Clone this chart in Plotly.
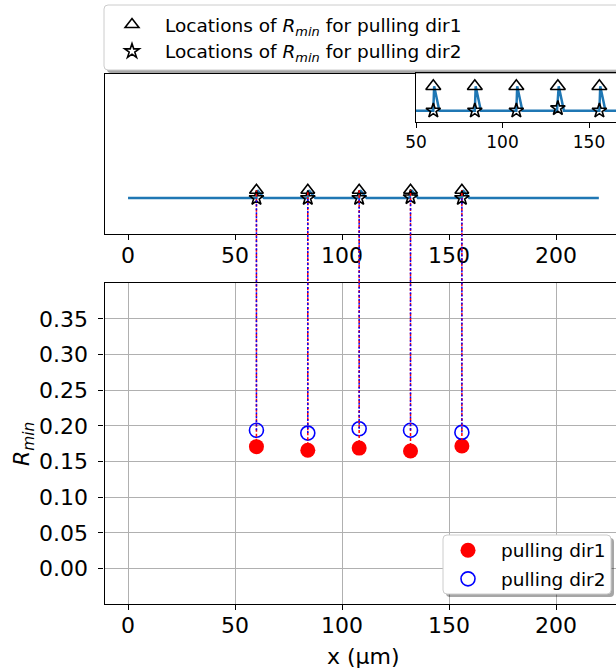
import plotly.graph_objects as go

W, H = 616, 670

# Positions (µm) where R_min occurs
loc_x = [60, 84, 108, 132, 156]
# R_min values for each pulling direction
rmin_dir1 = [0.171, 0.166, 0.169, 0.165, 0.172]
rmin_dir2 = [0.194, 0.190, 0.196, 0.194, 0.191]

# Normalised profile along x with the R_min markers on it
profile_x = [0, 60, 60.5, 63.5, 84, 84.5, 87.5, 108, 108.5, 111.5,
             131.5, 132.5, 135.5, 156, 156.5, 159.5, 220]
profile_y = [0, 0, 1, 0, 0, 1, 0, 0, 1, 0, 0, 1, 0, 0, 1, 0, 0]
tri_y = [1, 1, 1, 1, 1]
star_y = [0, 0, 0, 0.1, 0]

x_ticks = [0, 50, 100, 150, 200]
inset_ticks = [50, 100, 150]
r_ticks = [0.00, 0.05, 0.10, 0.15, 0.20, 0.25, 0.30, 0.35]

FONT = "DejaVu Sans"
BLUE_LINE = "#1f77b4"


def px(x):
    return x / W


def py(y):
    return 1 - y / H


# layout geometry (pixels -> paper)
x_dom = [px(104.5), 1.0]
top_dom = [py(234), py(74)]
bot_dom = [py(604.3), py(283.3)]
ins_xdom = [px(416), 1.0]
ins_ydom = [py(121.7), py(73.3)]

x_rng = [-11, -11 + (W - 104.5) / 2.14]
top_rng = [-4.6, 15.9]
bot_rng = [-0.05, 0.4]
ins_xrng = [50, 50 + (W - 416) / 1.73]
ins_yrng = [-0.45, 1.53]


def to_paper(v, rng, dom):
    return dom[0] + (v - rng[0]) / (rng[1] - rng[0]) * (dom[1] - dom[0])


lab1 = "Locations of <i>R<sub>min</sub></i> for pulling dir1"
lab2 = "Locations of <i>R<sub>min</sub></i> for pulling dir2"

fig = go.Figure()

# top panel: profile and markers
fig.add_trace(go.Scatter(x=profile_x, y=profile_y, mode="lines",
                         line=dict(color=BLUE_LINE, width=2.5),
                         xaxis="x", yaxis="y", showlegend=False))
fig.add_trace(go.Scatter(x=loc_x, y=tri_y, mode="markers", name=lab1,
                         marker=dict(symbol="triangle-up-open", size=12,
                                     color="black", line=dict(width=1.6)),
                         xaxis="x", yaxis="y", legend="legend2"))
fig.add_trace(go.Scatter(x=loc_x, y=star_y, mode="markers", name=lab2,
                         marker=dict(symbol="star-open", size=11,
                                     color="black", line=dict(width=1.6)),
                         xaxis="x", yaxis="y", legend="legend4"))

# inset: zoomed view of the same profile
fig.add_trace(go.Scatter(x=profile_x, y=profile_y, mode="lines",
                         line=dict(color=BLUE_LINE, width=2.5),
                         xaxis="x3", yaxis="y3", showlegend=False))
fig.add_trace(go.Scatter(x=loc_x, y=tri_y, mode="markers",
                         marker=dict(symbol="triangle-up-open", size=13,
                                     color="black", line=dict(width=1.6)),
                         xaxis="x3", yaxis="y3", showlegend=False))
fig.add_trace(go.Scatter(x=loc_x, y=star_y, mode="markers",
                         marker=dict(symbol="star-open", size=11,
                                     color="black", line=dict(width=1.6)),
                         xaxis="x3", yaxis="y3", showlegend=False))

# bottom panel: R_min values
fig.add_trace(go.Scatter(x=loc_x, y=rmin_dir1, mode="markers",
                         name="pulling dir1",
                         marker=dict(symbol="circle", size=15, color="red"),
                         xaxis="x2", yaxis="y2", legend="legend"))
fig.add_trace(go.Scatter(x=loc_x, y=rmin_dir2, mode="markers",
                         name="pulling dir2",
                         marker=dict(symbol="circle-open", size=14,
                                     color="blue", line=dict(width=1.6)),
                         xaxis="x2", yaxis="y2", legend="legend3"))

shapes = []


# legend frames with a soft shadow
def legend_box(x0, y0, x1, y1):
    r = 4

    def box_path(a0, b0, a1, b1):
        X0, X1 = px(a0), px(a1)
        Y0, Y1 = py(b0), py(b1)
        rx, ry = r / W, r / H
        return (f"M{X0 + rx},{Y0} L{X1 - rx},{Y0} Q{X1},{Y0} {X1},{Y0 - ry} "
                f"L{X1},{Y1 + ry} Q{X1},{Y1} {X1 - rx},{Y1} "
                f"L{X0 + rx},{Y1} Q{X0},{Y1} {X0},{Y1 + ry} "
                f"L{X0},{Y0 - ry} Q{X0},{Y0} {X0 + rx},{Y0} Z")
    return [
        dict(type="path", xref="paper", yref="paper", layer="above",
             path=box_path(x0 + 3, y0 + 3, x1 + 3, y1 + 3),
             fillcolor="rgba(0,0,0,0.35)", line=dict(width=0)),
        dict(type="path", xref="paper", yref="paper", layer="above",
             path=box_path(x0, y0, x1, y1),
             fillcolor="white", line=dict(color="#cccccc", width=1)),
    ]


# connectors from the profile markers down to the R_min values
for i, xv in enumerate(loc_x):
    shapes.append(dict(type="line", xref="x2", yref="paper", layer="above",
                       x0=xv, x1=xv,
                       y0=to_paper(rmin_dir1[i], bot_rng, bot_dom),
                       y1=to_paper(tri_y[i], top_rng, top_dom),
                       line=dict(color="red", width=1.5, dash="3px,2px")))
for i, xv in enumerate(loc_x):
    shapes.append(dict(type="line", xref="x2", yref="paper", layer="above",
                       x0=xv, x1=xv,
                       y0=to_paper(rmin_dir2[i], bot_rng, bot_dom),
                       y1=to_paper(star_y[i], top_rng, top_dom),
                       line=dict(color="blue", width=1.5, dash="2px,2px")))

shapes += legend_box(104, 5, 640, 70)
shapes += legend_box(443, 535, 611, 594)

axis_common = dict(showline=True, linecolor="black", linewidth=1.2,
                   mirror=True, ticks="outside", ticklen=5, tickwidth=1.2,
                   tickcolor="black", zeroline=False, automargin=False,
                   tickfont=dict(family=FONT, size=22, color="black"))

legend_common = dict(xanchor="left", yanchor="middle",
                     bgcolor="rgba(0,0,0,0)", borderwidth=0,
                     font=dict(family=FONT, size=18.5, color="black"),
                     itemwidth=56)

fig.update_layout(
    width=W, height=H,
    margin=dict(l=0, r=0, t=0, b=0),
    paper_bgcolor="white", plot_bgcolor="white",
    font=dict(family=FONT, color="black"),
    xaxis=dict(domain=x_dom, range=x_rng, anchor="y", tickvals=x_ticks,
               showgrid=False, ticklabelstandoff=-4, **axis_common),
    yaxis=dict(domain=top_dom, range=top_rng, anchor="x",
               showticklabels=False, showgrid=False,
               **{**axis_common, "ticks": ""}),
    xaxis2=dict(domain=x_dom, range=x_rng, anchor="y2", tickvals=x_ticks,
                showgrid=True, gridcolor="#b0b0b0", gridwidth=1,
                ticklabelstandoff=-4, **axis_common),
    yaxis2=dict(domain=bot_dom, range=bot_rng, anchor="x2", tickvals=r_ticks,
                tickformat=".2f", showgrid=True, gridcolor="#b0b0b0",
                gridwidth=1, ticklabelstandoff=6, **axis_common),
    xaxis3=dict(domain=ins_xdom, range=ins_xrng, anchor="y3",
                tickvals=inset_ticks, showgrid=False,
                **{**axis_common,
                   "tickfont": dict(family=FONT, size=17, color="black")}),
    yaxis3=dict(domain=ins_ydom, range=ins_yrng, anchor="x3",
                showticklabels=False, showgrid=False,
                **{**axis_common, "ticks": ""}),
    legend=dict(x=px(435), y=py(550.7), **legend_common),
    legend3=dict(x=px(435), y=py(579.3), **legend_common),
    legend2=dict(x=px(99), y=py(25), **legend_common),
    legend4=dict(x=px(99), y=py(51.7), **legend_common),
    shapes=shapes,
    annotations=[
        dict(text="x (µm)", xref="paper", yref="paper", x=px(363),
             y=py(656), xanchor="center", yanchor="middle", showarrow=False,
             font=dict(family=FONT, size=22, color="black")),
        dict(text="<i>R<sub>min</sub></i>", xref="paper", yref="paper",
             x=px(23), y=py(444), xanchor="center", yanchor="middle",
             textangle=-90, showarrow=False,
             font=dict(family=FONT, size=22, color="black")),
    ],
)

fig.write_html("out.html")
